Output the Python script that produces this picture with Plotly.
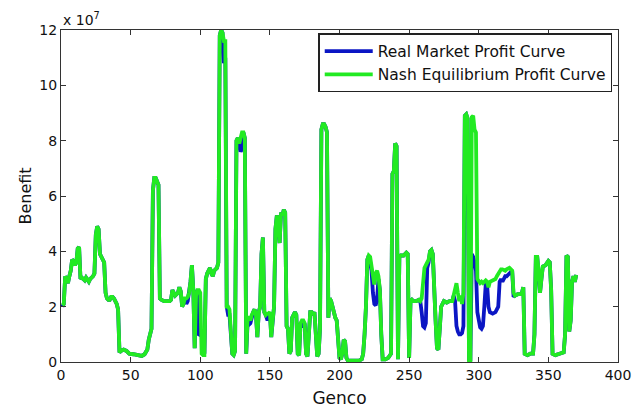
import plotly.graph_objects as go

# Genco index (breakpoints) and benefit values in units of 1e7
genco = [1,2,3,4,5,6,7,8,9,10,11,12,13,14,15,16,17,18,19,20,
         21,22,23,24,25,26,27,28,29,30,31,32,33,34,35,36,37,38,39,40,
         41,42,43,45,47,49,52,55,58,60,61,62,63,64,65,66,67,68,69,70,
         71,72,74,76,78,79,80,81,82,83,84,85,86,87,88,89,90,91,92,93,
         94,95,96,97,98,99,100,101,102,103,104,105,106,107,108,109,110,111,112,113,
         114,115,116,117,118,119,120,121,122,123,124,125,126,127,128,129,130,131,132,133,
         134,135,136,137,138,139,140,141,142,143,144,145,146,147,148,149,150,151,152,153,
         154,155,156,157,158,159,160,161,162,163,164,165,166,167,168,169,170,171,172,173,
         174,175,176,177,178,179,180,181,182,183,184,185,186,187,188,189,190,191,192,193,
         194,195,196,197,198,199,200,201,202,203,204,205,206,210,214,216,217,218,219,220,
         221,222,223,224,225,226,227,228,229,230,231,233,235,237,238,239,240,241,242,243,
         244,246,248,249,250,251,252,253,255,257,258,259,260,261,262,263,264,265,266,267,
         268,269,270,271,272,273,274,275,277,279,281,282,283,284,285,286,287,288,289,290,
         291,292,293,294,295,296,297,298,299,300,301,302,303,304,305,306,307,308,310,312,
         313,314,315,316,317,319,320,322,324,325,326,328,330,331,332,333,335,337,339,340,
         341,342,343,344,345,346,348,350,351,352,353,355,358,361,362,363,364,365,366,367,
         368,369,370]

nash_profit = [2.05,2.1,3.1,3.0,2.85,3.1,3.3,3.7,3.65,3.5,3.6,4.1,4.15,3.0,3.05,3.0,2.95,3.05,2.95,2.9,
               3.0,3.05,3.1,3.2,4.6,4.9,4.8,3.9,3.8,3.75,3.6,2.5,2.3,2.25,2.25,2.35,2.35,2.3,2.2,2.1,
               1.9,0.35,0.4,0.45,0.4,0.3,0.28,0.25,0.22,0.28,0.4,0.45,0.8,1.0,1.2,6.2,6.65,6.65,6.55,6.4,
               2.3,2.25,2.2,2.2,2.2,2.25,2.6,2.5,2.4,2.45,2.5,2.7,2.55,2.0,2.1,2.3,2.3,2.35,2.5,2.9,
               3.5,2.6,0.5,2.4,2.6,2.6,2.5,0.3,0.25,0.25,3.0,3.2,3.3,3.4,3.2,3.1,3.3,3.35,3.4,3.6,
               11.8,12.0,11.9,11.6,11.6,2.0,2.0,1.9,1.0,0.3,0.25,0.4,8.0,8.1,7.9,8.2,8.3,8.3,8.1,0.3,
               1.6,1.6,1.5,1.7,1.8,1.9,1.7,0.9,1.8,2.0,3.9,4.5,1.8,1.7,1.75,1.75,1.8,0.9,1.5,2.0,
               4.8,5.3,5.0,4.3,5.4,5.3,5.5,5.4,1.3,1.2,0.3,0.4,1.6,1.75,1.8,1.7,0.3,0.25,1.4,1.5,
               1.5,1.4,0.3,0.2,1.2,1.8,1.8,1.7,1.8,0.8,0.2,0.3,1.2,8.4,8.6,8.6,8.5,8.3,1.6,2.3,
               2.2,2.0,1.7,1.6,1.5,0.8,0.15,0.1,0.3,0.8,0.75,0.15,0.05,0.05,0.05,0.1,0.3,1.0,2.0,3.7,
               3.85,3.8,3.5,3.0,2.8,3.2,3.3,3.1,2.6,1.0,0.1,0.1,0.15,0.3,6.8,6.9,7.9,7.8,0.1,3.8,
               3.85,3.85,3.95,3.9,0.15,2.2,2.25,2.2,2.2,2.25,2.2,2.3,3.0,3.4,3.5,3.6,3.7,4.0,4.05,3.9,
               2.3,1.5,0.5,0.45,1.2,2.0,2.1,2.2,2.15,2.2,2.2,2.4,2.6,2.85,2.5,2.2,2.4,2.1,2.5,8.9,
               8.95,8.8,0.05,0.05,8.85,8.9,8.4,8.3,3.0,2.9,2.85,2.9,2.85,2.9,2.95,2.9,2.7,2.9,2.95,3.0,
               3.1,3.2,3.3,3.35,3.35,3.3,3.35,3.4,3.3,2.5,2.4,2.45,2.45,2.5,2.7,0.3,0.25,0.3,0.3,1.0,
               3.8,3.8,3.3,2.5,3.0,3.45,3.5,3.65,3.6,2.6,0.3,0.25,0.3,0.35,1.0,3.85,3.8,1.1,1.5,2.9,
               3.1,2.9,3.15]

real_profit = [2.0,2.1,3.1,3.0,2.85,3.1,3.3,3.7,3.65,3.5,3.6,4.1,4.15,3.0,3.05,3.0,2.95,3.05,2.95,2.9,
               3.0,3.05,3.1,3.2,4.6,4.9,4.8,3.9,3.8,3.75,3.6,2.5,2.3,2.25,2.25,2.35,2.35,2.3,2.2,2.1,
               1.9,0.35,0.4,0.45,0.4,0.3,0.28,0.25,0.22,0.28,0.4,0.45,0.8,1.0,1.2,6.2,6.65,6.65,6.55,6.4,
               2.3,2.25,2.2,2.2,2.2,2.25,2.6,2.5,2.4,2.45,2.5,2.7,2.55,2.0,2.1,2.3,2.1,2.2,2.5,2.9,
               3.5,2.6,0.5,2.4,2.6,1.0,0.97,0.97,0.97,0.3,3.0,3.2,3.3,3.4,3.2,3.1,3.3,3.35,3.4,3.6,
               11.8,12.0,11.9,10.8,11.0,2.0,1.7,1.7,1.0,0.3,0.25,0.4,8.0,8.1,7.9,7.6,7.7,8.3,8.1,0.3,
               1.4,1.35,1.4,1.7,1.8,1.9,1.7,0.9,1.8,2.0,3.9,4.5,1.8,1.7,1.55,1.55,1.8,0.9,1.5,2.0,
               4.8,5.3,5.0,4.3,5.4,5.3,5.5,5.4,1.3,1.2,0.3,0.4,1.6,1.75,1.8,1.7,0.3,0.25,1.4,1.3,
               1.3,1.4,0.3,0.2,1.2,1.8,1.8,1.7,1.8,0.8,0.2,0.3,1.2,8.4,8.6,8.6,8.5,8.3,1.6,2.3,
               2.2,2.0,1.7,1.6,1.5,0.8,0.15,0.1,0.3,0.8,0.75,0.15,0.05,0.05,0.05,0.1,0.3,1.0,2.0,3.7,
               3.85,3.6,3.3,2.5,2.1,2.05,2.3,3.0,2.6,1.0,0.1,0.1,0.15,0.3,6.8,6.9,7.9,7.8,0.1,3.8,
               3.85,3.85,3.95,3.9,0.15,2.2,2.25,2.2,2.2,2.25,2.2,1.8,1.3,1.25,1.4,3.4,3.6,4.0,4.05,3.9,
               2.3,1.5,0.5,0.45,1.2,2.0,2.1,2.2,2.15,2.2,2.2,2.4,2.2,1.3,1.1,1.0,1.0,1.05,1.3,8.9,
               8.95,8.8,0.1,0.1,3.9,3.8,3.6,3.3,1.8,1.4,1.25,1.2,1.3,2.0,2.8,2.8,2.0,1.8,1.75,1.8,
               1.9,2.0,2.9,3.0,2.9,3.1,3.1,3.2,3.3,2.35,2.4,2.45,2.45,2.5,2.7,0.3,0.25,0.3,0.3,1.0,
               3.8,3.8,3.3,2.5,3.0,3.45,3.5,3.65,3.6,2.6,0.3,0.25,0.3,0.35,1.0,3.85,3.8,1.1,1.5,2.9,
               3.1,2.9,3.15]

x_ticks = [0, 50, 100, 150, 200, 250, 300, 350, 400]
y_ticks = [0, 2, 4, 6, 8, 10, 12]

FONT = "DejaVu Sans, Liberation Sans, Arial, sans-serif"

fig = go.Figure()
fig.add_trace(go.Scatter(x=genco, y=real_profit, mode="lines",
                         name="Real Market Profit Curve",
                         line=dict(color="#0b16c4", width=3.8)))
fig.add_trace(go.Scatter(x=genco, y=nash_profit, mode="lines",
                         name="Nash Equilibrium Profit Curve",
                         line=dict(color="#22ea22", width=3.8)))

axis_common = dict(showgrid=False, zeroline=False, showline=True, linecolor="#333333",
                   linewidth=1.3, mirror="ticks", ticks="inside", ticklen=5,
                   tickcolor="#333333", automargin=False,
                   tickfont=dict(family=FONT, size=14, color="#111111"))

# the page body adds an 8px margin, so the figure is 8px smaller on each axis
fig.update_layout(
    width=636, height=400,
    margin=dict(l=53, r=26, t=22, b=46),
    paper_bgcolor="white", plot_bgcolor="white",
    font=dict(family=FONT, color="#111111"),
    showlegend=True,
    legend=dict(x=0.99, y=0.99, xanchor="right", yanchor="top",
                bgcolor="white", bordercolor="#222222", borderwidth=1.3,
                font=dict(family=FONT, size=15.5, color="#111111"),
                tracegroupgap=0, itemwidth=48),
    xaxis=dict(range=[0, 400], tickvals=x_ticks, ticktext=[str(v) for v in x_ticks],
               title=dict(text="Genco", font=dict(family=FONT, size=17), standoff=10),
               **axis_common),
    yaxis=dict(range=[0, 12], tickvals=y_ticks, ticktext=[str(v) for v in y_ticks],
               title=dict(text="Benefit", font=dict(family=FONT, size=16), standoff=3),
               **axis_common),
    annotations=[dict(text="x 10<sup>7</sup>", xref="paper", yref="paper",
                      x=0.0, y=1.0, xanchor="left", yanchor="bottom",
                      showarrow=False, font=dict(family=FONT, size=14, color="#111111"))],
)

fig.write_html("out.html")
